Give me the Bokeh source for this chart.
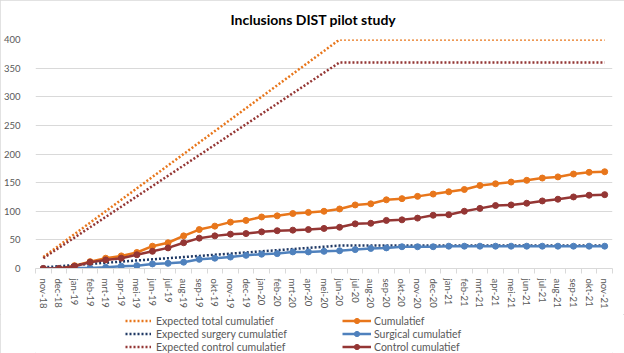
from bokeh.plotting import figure
from bokeh.layouts import column
from bokeh.models import FixedTicker, Legend, LegendItem, Range1d
from bokeh.embed import file_html
from bokeh.resources import INLINE

months = ["nov-18", "dec-18", "jan-19", "feb-19", "mrt-19", "apr-19", "mei-19", "jun-19",
          "jul-19", "aug-19", "sep-19", "okt-19", "nov-19", "dec-19", "jan-20", "feb-20",
          "mrt-20", "apr-20", "mei-20", "jun-20", "jul-20", "aug-20", "sep-20", "okt-20",
          "nov-20", "dec-20", "jan-21", "feb-21", "mrt-21", "apr-21", "mei-21", "jun-21",
          "jul-21", "aug-21", "sep-21", "okt-21", "nov-21"]

expected_total = [20, 40, 60, 80, 100, 120, 140, 160, 180, 200, 220, 240, 260, 280, 300, 320,
                  340, 360, 380, 400, 400, 400, 400, 400, 400, 400, 400, 400, 400, 400, 400,
                  400, 400, 400, 400, 400, 400]
expected_surgery = [2, 4, 6, 8, 10, 12, 14, 16, 18, 20, 22, 24, 26, 28, 30, 32, 34, 36, 38, 40,
                    40, 40, 40, 40, 40, 40, 40, 40, 40, 40, 40, 40, 40, 40, 40, 40, 40]
expected_control = [18, 36, 54, 72, 90, 108, 126, 144, 162, 180, 198, 216, 234, 252, 270, 288,
                     306, 324, 342, 360, 360, 360, 360, 360, 360, 360, 360, 360, 360, 360, 360,
                     360, 360, 360, 360, 360, 360]
cumulatief = [0, 0, 5, 12, 18, 22, 28, 39, 45, 57, 68, 74, 81, 84, 90, 92, 96, 98, 100, 104,
              111, 113, 120, 122, 126, 130, 134, 138, 145, 148, 151, 154, 158, 160, 165, 168, 169]
surgical = [0, 0, 1, 1, 2, 4, 5, 8, 9, 11, 16, 18, 20, 23, 25, 26, 29, 29, 30, 31, 33, 35, 36,
            38, 38, 38, 39, 39, 39, 39, 39, 39, 39, 39, 39, 39, 39]
control = [0, 0, 4, 11, 15, 18, 24, 30, 36, 45, 53, 57, 60, 61, 64, 66, 67, 68, 70, 72, 78, 79,
           84, 85, 88, 93, 94, 100, 105, 110, 111, 114, 118, 121, 125, 128, 129]

y_ticks = [0, 50, 100, 150, 200, 250, 300, 350, 400]

series_labels = ["Expected total cumulatief", "Expected surgery cumulatief",
                 "Expected control cumulatief", "Cumulatief", "Surgical cumulatief",
                 "Control cumulatief"]

ORANGE = "#E8761B"
BLUE = "#4F81BD"
NAVY = "#1F3864"
MAROON = "#943634"
GRID = "#D9D9D9"
TEXT = "#595959"
FONT = "Lato"
DOT = "2 2"
DOT_W = 2.5

x = list(range(len(months)))

p = figure(width=624, height=314, output_backend="svg", toolbar_location=None,
           x_range=Range1d(-0.5, len(months) - 0.5), y_range=Range1d(0, 400),
           min_border_left=30, min_border_right=12, min_border_top=39, min_border_bottom=46,
           background_fill_color="white", border_fill_color="white")
p.outline_line_color = None

p.title.text = "Inclusions DIST pilot study"
p.title.align = "left"
p.title.vertical_align = "top"
p.title.offset = 195
p.title.standoff = 20
p.title.text_font = FONT
p.title.text_font_size = "14px"
p.title.text_font_style = "bold"
p.title.text_color = "#000000"

p.line(x, expected_total, line_color=ORANGE, line_width=DOT_W, line_dash=DOT)
p.line(x, cumulatief, line_color=ORANGE, line_width=2.5)
p.scatter(x, cumulatief, marker="circle", size=6, fill_color=ORANGE, line_color=ORANGE)
p.line(x, expected_surgery, line_color=NAVY, line_width=DOT_W, line_dash=DOT)
p.line(x, surgical, line_color=BLUE, line_width=2.5)
p.scatter(x, surgical, marker="circle", size=6, fill_color=BLUE, line_color=BLUE)
p.line(x, expected_control, line_color=MAROON, line_width=DOT_W, line_dash=DOT)
p.line(x, control, line_color=MAROON, line_width=2.5)
p.scatter(x, control, marker="circle", size=6, fill_color=MAROON, line_color=MAROON)

# axes
p.yaxis.ticker = FixedTicker(ticks=y_ticks)
p.yaxis.axis_line_color = None
p.yaxis.major_tick_line_color = None
p.yaxis.minor_tick_line_color = None
p.yaxis.major_label_standoff = 9
p.yaxis.major_label_text_font = FONT
p.yaxis.major_label_text_font_size = "9.5px"
p.yaxis.major_label_text_color = TEXT

p.xaxis.ticker = FixedTicker(ticks=x, minor_ticks=[i - 0.5 for i in range(len(months) + 1)])
p.xaxis.major_label_overrides = {i: m for i, m in enumerate(months)}
p.xaxis.major_label_orientation = "vertical"
p.xaxis.axis_line_color = GRID
p.xaxis.major_tick_line_color = None
p.xaxis.major_tick_in = 0
p.xaxis.major_tick_out = 0
p.xaxis.minor_tick_in = 0
p.xaxis.minor_tick_out = 5
p.xaxis.minor_tick_line_color = GRID
p.xaxis.major_label_standoff = 5
p.xaxis.major_label_text_font = FONT
p.xaxis.major_label_text_font_size = "9.5px"
p.xaxis.major_label_text_color = TEXT

p.xgrid.visible = False
p.ygrid.ticker = FixedTicker(ticks=y_ticks)
p.ygrid.grid_line_color = GRID
p.ygrid.grid_line_width = 1

# legend strip below the chart (legend keys are proxy glyphs with no visible data)
NAN = [float("nan")]
lg = figure(width=624, height=39, output_backend="svg", toolbar_location=None,
            x_range=Range1d(0, 1), y_range=Range1d(0, 1),
            x_axis_location=None, y_axis_location=None,
            min_border=0, min_border_left=0, min_border_right=0,
            min_border_top=0, min_border_bottom=0,
            background_fill_color="white", border_fill_color="white")
lg.outline_line_color = None
lg.xgrid.visible = False
lg.ygrid.visible = False

k_et = lg.line(NAN, NAN, line_color=ORANGE, line_width=DOT_W, line_dash=DOT)
k_es = lg.line(NAN, NAN, line_color=NAVY, line_width=DOT_W, line_dash=DOT)
k_ec = lg.line(NAN, NAN, line_color=MAROON, line_width=DOT_W, line_dash=DOT)
k_c = [lg.line(NAN, NAN, line_color=ORANGE, line_width=2.5),
       lg.scatter(NAN, NAN, marker="circle", size=6, fill_color=ORANGE, line_color=ORANGE)]
k_s = [lg.line(NAN, NAN, line_color=BLUE, line_width=2.5),
       lg.scatter(NAN, NAN, marker="circle", size=6, fill_color=BLUE, line_color=BLUE)]
k_k = [lg.line(NAN, NAN, line_color=MAROON, line_width=2.5),
       lg.scatter(NAN, NAN, marker="circle", size=6, fill_color=MAROON, line_color=MAROON)]


def make_legend(items, loc, glyph_w, standoff):
    return Legend(items=items, location=loc, orientation="vertical",
                  glyph_width=glyph_w, glyph_height=13, label_height=13,
                  label_standoff=standoff, spacing=0, padding=0, margin=0,
                  label_text_font=FONT, label_text_font_size="10.5px",
                  label_text_color=TEXT, background_fill_alpha=0,
                  border_line_alpha=0)


left_items = [LegendItem(label=series_labels[0], renderers=[k_et]),
              LegendItem(label=series_labels[1], renderers=[k_es]),
              LegendItem(label=series_labels[2], renderers=[k_ec])]
right_items = [LegendItem(label=series_labels[3], renderers=k_c),
               LegendItem(label=series_labels[4], renderers=k_s),
               LegendItem(label=series_labels[5], renderers=k_k)]

lg.add_layout(make_legend(left_items, (90, 0), 26, 5), "center")
lg.add_layout(make_legend(right_items, (307, 0), 29, 3), "center")

layout = column(p, lg, spacing=0,
                styles={"outline": "1px solid #D9D9D9", "outline-offset": "-1px"})
open("out.html", "w").write(file_html(layout, INLINE))
